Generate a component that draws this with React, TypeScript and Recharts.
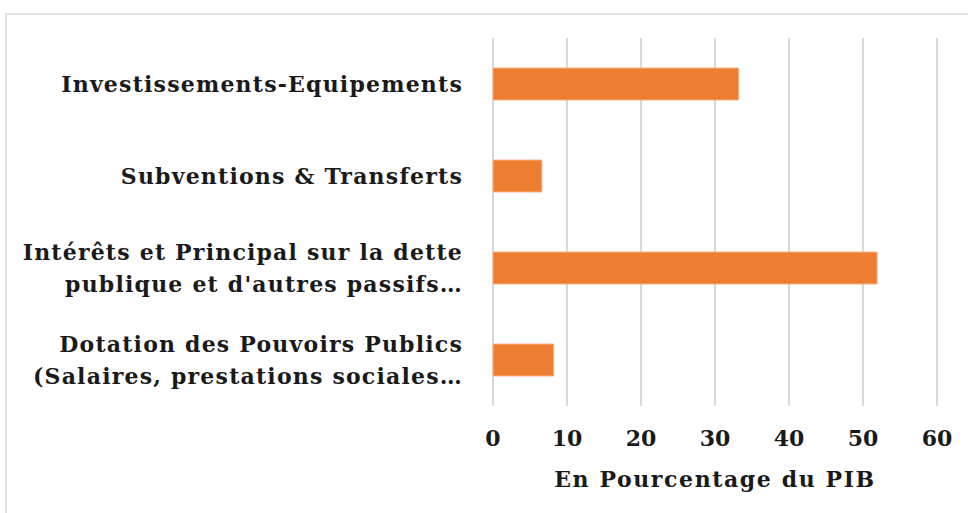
import { BarChart, Bar, XAxis, YAxis, CartesianGrid } from "recharts";

const categories = [
  "Investissements-Equipements",
  "Subventions & Transferts",
  "Intérêts et Principal sur la dette\npublique et d'autres passifs…",
  "Dotation des Pouvoirs Publics\n(Salaires, prestations sociales…",
];
const values = [33.2, 6.6, 51.9, 8.2];
const xTicks = [0, 10, 20, 30, 40, 50, 60];
const axisTitle = "En Pourcentage du PIB";

const data = categories.map((name, i) => ({ name, value: values[i] }));

const FONT = "'DejaVu Serif', serif";

const CategoryTick = (props: any) => {
  const { x, y, payload } = props;
  const lines = String(payload.value).split("\n");
  const lh = 32;
  const startY = y - ((lines.length - 1) * lh) / 2;
  return (
    <text
      x={x - 22}
      y={startY}
      textAnchor="end"
      fontFamily={FONT}
      fontWeight="bold"
      fontSize={22}
      letterSpacing={1.2}
      fill="#1a1a1a"
    >
      {lines.map((line, i) => (
        <tspan key={i} x={x - 22} y={startY + i * lh} dy="0.35em">
          {line}
        </tspan>
      ))}
    </text>
  );
};

export default function App() {
  return (
    <div
      style={{
        position: "absolute",
        left: 0,
        top: 0,
        width: 968,
        height: 513,
        overflow: "hidden",
        background: "#fff",
      }}
    >
      {/* light frame, cropped on the right and bottom like the screenshot */}
      <div
        style={{
          position: "absolute",
          left: 5,
          top: 13,
          width: 1000,
          height: 600,
          border: "2px solid #e2e2e2",
        }}
      />
      <div style={{ position: "absolute", left: 0, top: 0 }}>
        <BarChart
          width={968}
          height={513}
          data={data}
          layout="vertical"
          margin={{ top: 38, right: 31, left: 0, bottom: 8 }}
          barCategoryGap="0%"
        >
          <CartesianGrid
            horizontal={false}
            stroke="#d9d9d9"
            strokeWidth={2}
          />
          <XAxis
            type="number"
            domain={[0, 60]}
            ticks={xTicks}
            axisLine={false}
            tickLine={false}
            height={99}
            tick={{
              fill: "#1a1a1a",
              fontFamily: FONT,
              fontWeight: "bold",
              fontSize: 22,
              dy: 16,
            }}
            label={{
              value: axisTitle,
              position: "insideTop",
              dy: 60,
              style: {
                fill: "#1a1a1a",
                fontFamily: FONT,
                fontWeight: "bold",
                fontSize: 22,
                letterSpacing: 1.6,
              },
            }}
          />
          <YAxis
            type="category"
            dataKey="name"
            width={493}
            axisLine={false}
            tickLine={false}
            interval={0}
            tick={<CategoryTick />}
          />
          <Bar
            dataKey="value"
            fill="#ED7D31"
            stroke="#F4B183"
            strokeWidth={1}
            barSize={32}
            isAnimationActive={false}
          />
        </BarChart>
      </div>
    </div>
  );
}
